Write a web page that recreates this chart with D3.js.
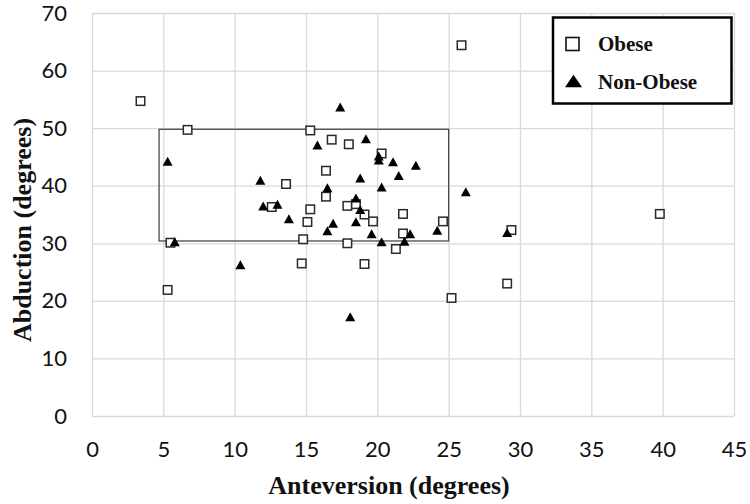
<!DOCTYPE html>
<html>
<head>
<meta charset="utf-8">
<script src="https://cdn.jsdelivr.net/npm/d3@7/dist/d3.min.js"></script>
<style>
  html, body { margin: 0; padding: 0; background: #fff; }
  svg { display: block; }
</style>
</head>
<body>
<svg id="chart" width="750" height="504"></svg>
<script>
// ---- Data ----
const obese = [
  [3.4, 54.7], [6.7, 49.7], [5.3, 21.9], [5.5, 30.1], [25.9, 64.4],
  [15.3, 49.6], [16.8, 48.0], [18.0, 47.2], [20.3, 45.6], [16.4, 42.6],
  [13.6, 40.3], [16.4, 38.1], [12.6, 36.3], [15.3, 35.9], [17.9, 36.5],
  [18.5, 36.8], [19.1, 35.0], [15.1, 33.7], [19.7, 33.8], [21.8, 35.1],
  [24.6, 33.8], [14.8, 30.7], [21.8, 31.7], [17.9, 30.0], [21.3, 29.0],
  [14.7, 26.5], [19.1, 26.4], [25.2, 20.5], [29.4, 32.3], [39.8, 35.1],
  [29.1, 23.0]
];
const nonObese = [
  [5.3, 44.0], [5.8, 30.0], [10.4, 26.0], [17.4, 53.4], [15.8, 46.8],
  [19.2, 47.9], [20.1, 44.9], [20.1, 44.2], [21.1, 43.9], [22.7, 43.3],
  [21.5, 41.5], [18.8, 41.1], [11.8, 40.7], [16.5, 39.4], [20.3, 39.5],
  [12.0, 36.2], [13.0, 36.5], [18.5, 37.6], [18.8, 35.6], [13.8, 34.0],
  [16.9, 33.2], [18.5, 33.5], [16.5, 31.9], [19.6, 31.4], [22.3, 31.4],
  [24.2, 32.0], [20.3, 30.0], [21.9, 30.1], [18.1, 17.0], [26.2, 38.7],
  [29.1, 31.6]
];
const boxX = [4.7, 25.0];
const boxY = [30.4, 49.8];
const xTicks = [0, 5, 10, 15, 20, 25, 30, 35, 40, 45];
const yTicks = [0, 10, 20, 30, 40, 50, 60, 70];
const xTitle = "Anteversion (degrees)";
const yTitle = "Abduction (degrees)";
const seriesNames = ["Obese", "Non-Obese"];

// ---- Layout ----
const svg = d3.select("#chart");
svg.append("rect").attr("width", 750).attr("height", 504).attr("fill", "#fff");

const x = d3.scaleLinear().domain([0, 45]).range([92, 734]);
const y = d3.scaleLinear().domain([0, 70]).range([416, 13]);

const gridColor = "#d9d9d9";
const tickFont = "Lato, 'Open Sans', 'Liberation Sans', sans-serif";
const serif = "'Liberation Serif', 'DejaVu Serif', serif";

// Grid lines via axes
const gx = svg.append("g")
  .attr("transform", `translate(0,${y(0)})`)
  .call(d3.axisBottom(x).tickValues(xTicks).tickSize(-(y(0) - y(70))).tickFormat(d => d).tickPadding(25));
gx.select(".domain").remove();
gx.selectAll(".tick line").attr("stroke", gridColor).attr("stroke-width", 1.3);
gx.selectAll(".tick text")
  .attr("font-family", tickFont).attr("font-size", 22).attr("fill", "#111");

const gy = svg.append("g")
  .attr("transform", `translate(${x(0)},0)`)
  .call(d3.axisLeft(y).tickValues(yTicks).tickSize(-(x(45) - x(0))).tickFormat(d => d).tickPadding(25));
gy.select(".domain").remove();
gy.selectAll(".tick line").attr("stroke", gridColor).attr("stroke-width", 1.3);
gy.selectAll(".tick text")
  .attr("font-family", tickFont).attr("font-size", 22).attr("fill", "#111");

// Rectangle region
svg.append("rect")
  .attr("x", x(boxX[0])).attr("y", y(boxY[1]))
  .attr("width", x(boxX[1]) - x(boxX[0]))
  .attr("height", y(boxY[0]) - y(boxY[1]))
  .attr("fill", "none").attr("stroke", "#4a4a4a").attr("stroke-width", 1.3);

// Markers
function triPath(cx, cy, w, h) {
  return `M${cx},${cy - h * 2 / 3}L${cx + w / 2},${cy + h / 3}L${cx - w / 2},${cy + h / 3}Z`;
}

const sq = 8.5;
svg.append("g").selectAll("rect").data(obese).join("rect")
  .attr("x", d => x(d[0]) - sq / 2).attr("y", d => y(d[1]) - sq / 2)
  .attr("width", sq).attr("height", sq)
  .attr("fill", "#fff").attr("stroke", "#2a2a2a").attr("stroke-width", 1.5);

svg.append("g").selectAll("path").data(nonObese).join("path")
  .attr("d", d => triPath(x(d[0]), y(d[1]), 10, 9))
  .attr("fill", "#000");

// Legend
const lg = svg.append("g");
lg.append("rect").attr("x", 553).attr("y", 17.5).attr("width", 178.5).attr("height", 86)
  .attr("fill", "#fff").attr("stroke", "#000").attr("stroke-width", 2.5);
lg.append("rect").attr("x", 566).attr("y", 37.5).attr("width", 13).attr("height", 13)
  .attr("fill", "#fff").attr("stroke", "#111").attr("stroke-width", 1.6);
lg.append("path").attr("d", triPath(573.5, 83, 17, 12.5)).attr("fill", "#000");
lg.append("text").attr("x", 598).attr("y", 51).text(seriesNames[0])
  .attr("font-family", serif).attr("font-weight", "bold").attr("font-size", 21).attr("fill", "#111");
lg.append("text").attr("x", 598).attr("y", 88.5).text(seriesNames[1])
  .attr("font-family", serif).attr("font-weight", "bold").attr("font-size", 21).attr("fill", "#111");

// Axis titles
svg.append("text")
  .attr("x", 389).attr("y", 494)
  .attr("text-anchor", "middle")
  .attr("font-family", serif).attr("font-weight", "bold").attr("font-size", 26).attr("fill", "#111")
  .text(xTitle);

svg.append("text")
  .attr("transform", `translate(31,${230}) rotate(-90)`)
  .attr("text-anchor", "middle")
  .attr("font-family", serif).attr("font-weight", "bold").attr("font-size", 26).attr("fill", "#111")
  .text(yTitle);
</script>
</body>
</html>
